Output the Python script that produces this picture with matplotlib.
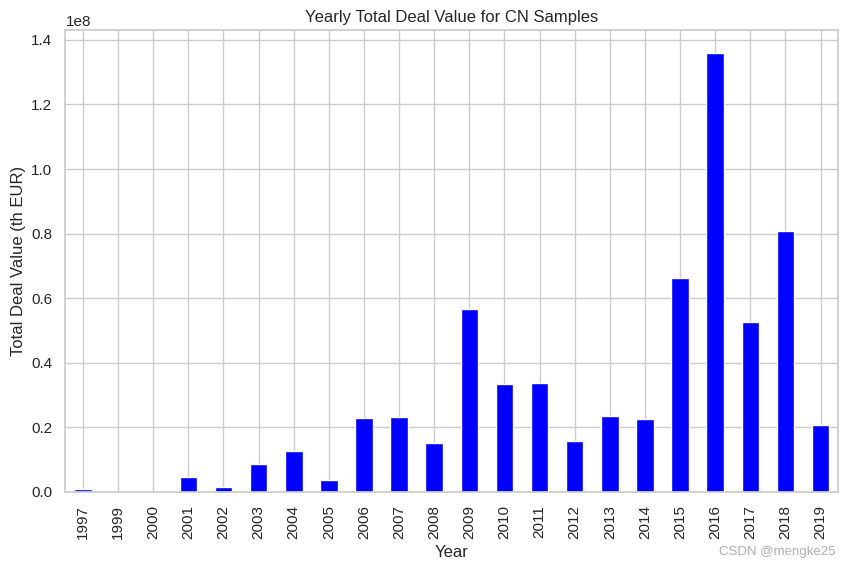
import matplotlib
matplotlib.use('Agg')
import matplotlib.pyplot as plt
import pandas as pd
import seaborn as sns

sns.set_theme(style='whitegrid')
plt.rcParams['font.family'] = ['Liberation Sans', 'DejaVu Sans']

# yearly totals (th EUR)
years = ['1997', '1999', '2000', '2001', '2002', '2003', '2004', '2005', '2006', '2007', '2008',
         '2009', '2010', '2011', '2012', '2013', '2014', '2015', '2016', '2017', '2018', '2019']
deal_values = [8.0e5, 2.0e4, 1.0e4, 4.5e6, 1.6e6, 8.7e6, 12.8e6, 3.8e6, 23.0e6, 23.3e6, 15.0e6,
               56.8e6, 33.5e6, 33.8e6, 15.9e6, 23.5e6, 22.7e6, 66.4e6, 136.0e6, 52.7e6, 80.7e6, 20.8e6]

totals = pd.Series(deal_values, index=years)

fig = plt.figure(figsize=(8.5, 5.7), dpi=100)
ax = totals.plot(kind='bar', color='blue')
ax.set_title('Yearly Total Deal Value for CN Samples')
ax.set_xlabel('Year')
ax.set_ylabel('Total Deal Value (th EUR)')
ax.set_ylim(0, 1.43e8)

fig.subplots_adjust(left=0.077, right=0.986, top=0.947, bottom=0.137)
# watermark from the source image
fig.text(0.983, 0.021, 'CSDN @mengke25', ha='right', va='bottom', color='#b0b0b0', fontsize=9.5)

fig.savefig('out.png', dpi=100)
